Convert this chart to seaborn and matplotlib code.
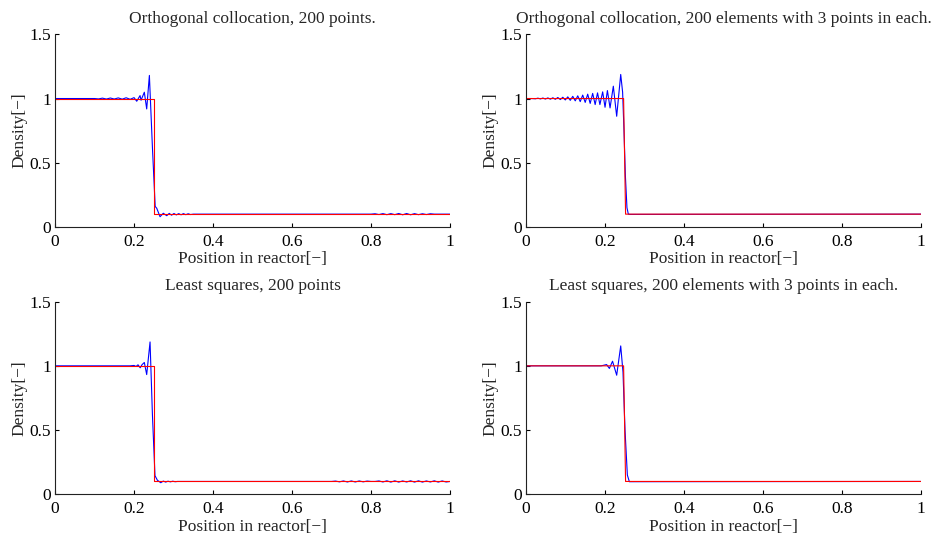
import matplotlib
matplotlib.use("Agg")
import matplotlib.pyplot as plt
import seaborn as sns

# Titles and labels
titles = [
    "Orthogonal collocation, 200 points.",
    "Orthogonal collocation, 200 elements with 3 points in each.",
    "Least squares, 200 points",
    "Least squares, 200 elements with 3 points in each.",
]
xlabel = "Position in reactor[\u2212]"
ylabel = "Density[\u2212]"
xticks = [0, 0.2, 0.4, 0.6, 0.8, 1.0]
xticklabels = ["0", "0.2", "0.4", "0.6", "0.8", "1"]
yticks = [0, 0.5, 1.0, 1.5]
yticklabels = ["0", "0.5", "1", "1.5"]

# Exact (red) step profiles
step_x_a = [0.0, 0.25, 0.25, 1.0]
step_y_a = [1.0, 1.0, 0.1, 0.1]
step_x_b = [0.0, 0.247, 0.252, 1.0]
step_y_b = [1.0, 1.0, 0.1, 0.1]

# Orthogonal collocation, 200 points
oc_x = [0.0, 0.10, 0.11, 0.12, 0.13, 0.14, 0.15, 0.16, 0.17, 0.18, 0.19, 0.20,
        0.2068, 0.2152, 0.2177, 0.226, 0.232, 0.2388, 0.2465, 0.2535, 0.2574,
        0.2658, 0.274, 0.2827, 0.289, 0.295, 0.301, 0.307, 0.313, 0.319, 0.325,
        0.331, 0.337, 0.343, 0.35, 0.80, 0.81, 0.82, 0.83, 0.84, 0.85, 0.86,
        0.87, 0.88, 0.89, 0.90, 0.91, 0.92, 0.93, 0.94, 0.95, 0.96, 1.0]
oc_y = [1.0, 1.0, 0.997, 1.003, 0.996, 1.004, 0.996, 1.005, 0.995, 1.006, 0.994, 1.007,
        0.979, 1.023, 0.987, 1.049, 0.919, 1.18, 0.62, 0.16, 0.146,
        0.08, 0.107, 0.088, 0.106, 0.092, 0.105, 0.094, 0.104, 0.095, 0.104,
        0.096, 0.103, 0.097, 0.1, 0.1, 0.103, 0.097, 0.104, 0.096, 0.104, 0.096,
        0.105, 0.095, 0.105, 0.095, 0.104, 0.096, 0.103, 0.097, 0.103, 0.1, 0.1]

# Orthogonal collocation, 200 elements with 3 points in each
oce_x = [0.0, 0.015, 0.0238, 0.0301, 0.0364, 0.0427, 0.049, 0.0553, 0.0616,
         0.0679, 0.0742, 0.0805, 0.0868, 0.0931, 0.0994, 0.1057, 0.112, 0.1183,
         0.1246, 0.1309, 0.1372, 0.1435, 0.1498, 0.1561, 0.1624, 0.1687, 0.175,
         0.181, 0.187, 0.194, 0.200, 0.206, 0.2127, 0.221, 0.2295, 0.2397, 0.2445,
         0.248, 0.2515, 0.2555, 0.259, 0.263, 1.0]
oce_y = [1.0, 1.0, 0.998, 1.003, 0.997, 1.004, 0.996, 1.005, 0.995,
         1.006, 0.994, 1.008, 0.992, 1.010, 0.989, 1.013, 0.986, 1.017,
         0.982, 1.021, 0.976, 1.027, 0.970, 1.034, 0.962, 1.040, 0.953,
         1.044, 0.953, 1.052, 0.932, 1.062, 0.927, 1.096, 0.862, 1.1875, 1.05,
         0.75, 0.4, 0.15, 0.1, 0.098, 0.1]

# Least squares, 200 points
ls_x = [0.0, 0.19, 0.200, 0.205, 0.210, 0.2155, 0.2205, 0.226, 0.232, 0.2405,
        0.2465, 0.253, 0.259, 0.2675, 0.274, 0.280, 0.286, 0.292, 0.298, 0.304,
        0.31, 0.70, 0.71, 0.72, 0.73, 0.74, 0.75, 0.76, 0.77, 0.78, 0.79, 0.80,
        0.81, 0.82, 0.83, 0.84, 0.85, 0.86, 0.87, 0.88, 0.89, 0.90, 0.91, 0.92,
        0.93, 0.94, 0.95, 0.96, 0.97, 0.98, 0.99, 1.0]
ls_y = [1.0, 1.0, 1.003, 0.995, 1.008, 0.985, 1.01, 1.026, 0.932, 1.186,
        0.62, 0.145, 0.11, 0.09, 0.103, 0.095, 0.102, 0.097, 0.102, 0.098,
        0.1, 0.1, 0.103, 0.097, 0.104, 0.096, 0.104, 0.096, 0.104, 0.097, 0.103, 0.1,
        0.1, 0.104, 0.096, 0.105, 0.095, 0.105, 0.095, 0.104, 0.096, 0.105, 0.095,
        0.105, 0.095, 0.104, 0.096, 0.105, 0.095, 0.104, 0.096, 0.1]

# Least squares, 200 elements with 3 points in each
lse_x = [0.0, 0.19, 0.196, 0.204, 0.211, 0.219, 0.2295, 0.2397, 0.2455,
         0.2506, 0.2565, 0.2616, 1.0]
lse_y = [1.0, 1.0, 1.004, 1.01, 0.98, 1.036, 0.927, 1.155, 0.95,
         0.5, 0.15, 0.098, 0.1]

curves = [(oc_x, oc_y, step_x_a, step_y_a),
          (oce_x, oce_y, step_x_b, step_y_b),
          (ls_x, ls_y, step_x_a, step_y_a),
          (lse_x, lse_y, step_x_b, step_y_b)]

sns.set_theme(style="ticks")
plt.rcParams['font.family'] = ['Liberation Serif', 'DejaVu Serif']
plt.rcParams['font.size'] = 12.5

fig = plt.figure(figsize=(9.33, 5.36), dpi=100)
positions = [
    [0.059, 0.5765, 0.4234, 0.3595],
    [0.5638, 0.5765, 0.4234, 0.3595],
    [0.059, 0.0778, 0.4234, 0.3595],
    [0.5638, 0.0778, 0.4234, 0.3595],
]

for pos, title, (bx, by, rx, ry) in zip(positions, titles, curves):
    ax = fig.add_axes(pos)
    sns.lineplot(x=bx, y=by, color="#0000ff", linewidth=0.8,
                 estimator=None, sort=False, ax=ax)
    sns.lineplot(x=rx, y=ry, color="#ff0000", linewidth=0.8,
                 estimator=None, sort=False, ax=ax)
    ax.set_xlim(0, 1)
    ax.set_ylim(0, 1.5)
    ax.set_xticks(xticks)
    ax.set_xticklabels(xticklabels)
    ax.set_yticks(yticks)
    ax.set_yticklabels(yticklabels)
    ax.tick_params(direction="in", length=3, width=0.8, labelsize=12.5,
                   colors="black")
    ax.tick_params(axis="x", pad=5)
    ax.tick_params(axis="y", pad=3)
    for side in ["left", "bottom"]:
        ax.spines[side].set_linewidth(0.8)
        ax.spines[side].set_color("#222222")
    sns.despine(ax=ax)
    ax.set_title(title, fontsize=12.5, pad=8)
    ax.set_xlabel(xlabel, fontsize=12.5, labelpad=1)
    ax.set_ylabel(ylabel, fontsize=12.5, labelpad=1)

fig.savefig("out.png", dpi=100)
